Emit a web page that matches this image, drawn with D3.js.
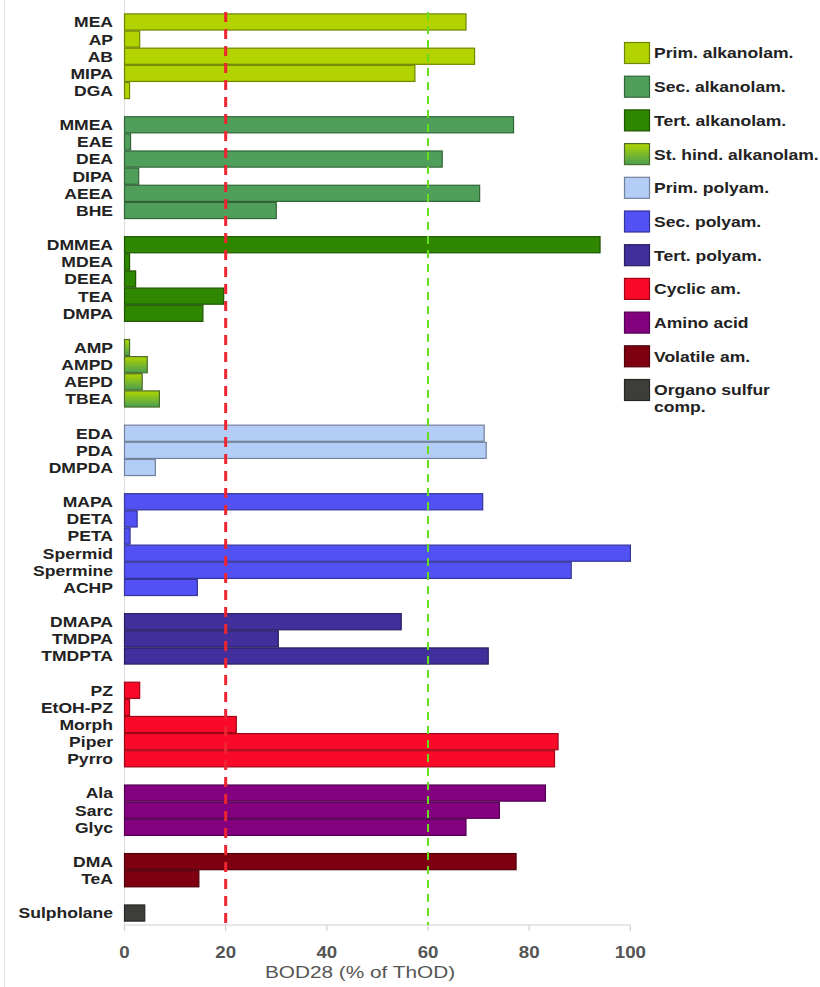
<!DOCTYPE html>
<html>
<head>
<meta charset="utf-8">
<script src="https://cdn.jsdelivr.net/npm/d3@7"></script>
<style>
  body { margin: 0; background: #fff; }
  svg { display: block; }
  text { font-family: "Liberation Sans", Arial, sans-serif; }
</style>
</head>
<body>
<svg id="chart" width="820" height="987"></svg>
<script>
// Amine classes (legend order) and their fill colours
const amineClasses = [
  "Prim. alkanolam.", "Sec. alkanolam.", "Tert. alkanolam.", "St. hind. alkanolam.",
  "Prim. polyam.", "Sec. polyam.", "Tert. polyam.", "Cyclic am.",
  "Amino acid", "Volatile am.", "Organo sulfur comp."
];
const classColors = [
  "#b2d300", "#4f9f5a", "#2f8700", "gradient",
  "#b4cdf6", "#5252f4", "#41309b", "#fa0a28",
  "#83007f", "#7e0010", "#3d3d3a"
];

// Compounds, their class index and BOD28 (% of ThOD)
const amines = [
  "MEA", "AP", "AB", "MIPA", "DGA",
  "MMEA", "EAE", "DEA", "DIPA", "AEEA", "BHE",
  "DMMEA", "MDEA", "DEEA", "TEA", "DMPA",
  "AMP", "AMPD", "AEPD", "TBEA",
  "EDA", "PDA", "DMPDA",
  "MAPA", "DETA", "PETA", "Spermid", "Spermine", "ACHP",
  "DMAPA", "TMDPA", "TMDPTA",
  "PZ", "EtOH-PZ", "Morph", "Piper", "Pyrro",
  "Ala", "Sarc", "Glyc",
  "DMA", "TeA",
  "Sulpholane"
];
const amineClass = [
  0, 0, 0, 0, 0,
  1, 1, 1, 1, 1, 1,
  2, 2, 2, 2, 2,
  3, 3, 3, 3,
  4, 4, 4,
  5, 5, 5, 5, 5, 5,
  6, 6, 6,
  7, 7, 7, 7, 7,
  8, 8, 8,
  9, 9,
  10
];
const bod28 = [
  67.5, 3, 69.2, 57.4, 1,
  76.9, 1.2, 62.8, 2.8, 70.2, 30,
  94, 1, 2.2, 19.6, 15.5,
  1, 4.5, 3.5, 6.9,
  71.1, 71.5, 6.1,
  70.8, 2.5, 1.1, 100, 88.3, 14.4,
  54.7, 30.4, 71.9,
  3, 1, 22.1, 85.7, 85,
  83.2, 74.1, 67.5,
  77.4, 14.7,
  4
];
const xTicks = [0, 20, 40, 60, 80, 100];
const thresholds = [20, 60];
const thresholdColors = ["#ee2430", "#66e01a"];

const svg = d3.select("#chart");
const stretch = "scale(1.17,1)";

// One band per compound, plus an empty band between classes
const slots = [];
amines.forEach((name, i) => {
  if (i > 0 && amineClass[i] !== amineClass[i - 1]) slots.push("gap" + i);
  slots.push(name);
});

const x = d3.scaleLinear().domain([0, 100]).range([124.5, 630.4]);
const y = d3.scaleBand().domain(slots).range([13.4, 921.6]).padding(0);

const defs = svg.append("defs");
const grad = defs.append("linearGradient")
  .attr("id", "stHind").attr("x1", 0).attr("y1", 0).attr("x2", 0).attr("y2", 1);
grad.append("stop").attr("offset", "0%").attr("stop-color", "#b0d500");
grad.append("stop").attr("offset", "100%").attr("stop-color", "#4a9e52");

const fillOf = c => classColors[c] === "gradient" ? "url(#stHind)" : classColors[c];
const strokeOf = c => classColors[c] === "gradient" ? "#4a6e2a" : d3.color(classColors[c]).darker(1.3);

// frame edge on the left
svg.append("line").attr("x1", 4.5).attr("x2", 4.5).attr("y1", 0).attr("y2", 987)
  .attr("stroke", "#e2e2e2").attr("stroke-width", 1);

// y axis line
svg.append("line").attr("x1", x(0)).attr("x2", x(0)).attr("y1", 0).attr("y2", 925)
  .attr("stroke", "#dcdcdc").attr("stroke-width", 1);

// bars
const data = amines.map((name, i) => ({ name, v: bod28[i], c: amineClass[i] }));
svg.append("g").selectAll("rect").data(data).join("rect")
  .attr("x", x(0))
  .attr("y", d => y(d.name) + 0.5)
  .attr("width", d => x(d.v) - x(0))
  .attr("height", y.bandwidth() - 1)
  .attr("fill", d => fillOf(d.c))
  .attr("stroke", d => strokeOf(d.c))
  .attr("stroke-width", 1.2);

// compound labels
svg.append("g").selectAll("text").data(data).join("text")
  .attr("transform", d => `translate(113,${y(d.name) + y.bandwidth() / 2}) ${stretch}`)
  .attr("dy", "0.36em")
  .attr("text-anchor", "end")
  .attr("font-size", 15)
  .attr("font-weight", "bold")
  .attr("fill", "#222")
  .text(d => d.name);

// x axis
const xAxis = svg.append("g").attr("transform", "translate(0,925)");
xAxis.append("line").attr("x1", x(0)).attr("x2", x(100))
  .attr("stroke", "#d0d0d0").attr("stroke-width", 1.2);
xAxis.selectAll(".tick").data(xTicks).join("line")
  .attr("x1", d => x(d)).attr("x2", d => x(d)).attr("y1", 0).attr("y2", 6)
  .attr("stroke", "#d0d0d0").attr("stroke-width", 1.2);
xAxis.selectAll("text").data(xTicks).join("text")
  .attr("transform", d => `translate(${x(d)},33) ${stretch}`)
  .attr("text-anchor", "middle")
  .attr("font-size", 16)
  .attr("font-weight", "bold")
  .attr("fill", "#555")
  .text(d => d);
svg.append("text")
  .attr("transform", `translate(360,978) scale(1.3,1)`)
  .attr("text-anchor", "middle")
  .attr("font-size", 16)
  .attr("fill", "#555")
  .text("BOD28 (% of ThOD)");

// threshold lines
svg.append("g").selectAll("line").data(thresholds).join("line")
  .attr("x1", d => x(d)).attr("x2", d => x(d))
  .attr("y1", 12).attr("y2", 925)
  .attr("stroke", (d, i) => thresholdColors[i])
  .attr("stroke-width", (d, i) => i === 0 ? 3 : 2)
  .attr("stroke-dasharray", (d, i) => i === 0 ? "10,7" : "8,6");

// legend
const legend = svg.append("g").selectAll("g").data(amineClasses).join("g")
  .attr("transform", (d, i) => `translate(624,${53 + i * 33.7})`);
legend.append("rect")
  .attr("x", 0.5).attr("y", -10.5).attr("width", 25).attr("height", 21)
  .attr("fill", (d, i) => fillOf(i))
  .attr("stroke", (d, i) => strokeOf(i))
  .attr("stroke-width", 1.2);
legend.append("text")
  .attr("transform", `translate(30,0) ${stretch}`)
  .attr("font-size", 15)
  .attr("font-weight", "bold")
  .attr("fill", "#222")
  .each(function (d) {
    const words = d === "Organo sulfur comp." ? ["Organo sulfur", "comp."] : [d];
    d3.select(this).selectAll("tspan").data(words).join("tspan")
      .attr("x", 0)
      .attr("dy", (w, j) => j === 0 ? "0.36em" : "1.1em")
      .text(w => w);
  });
</script>
</body>
</html>
